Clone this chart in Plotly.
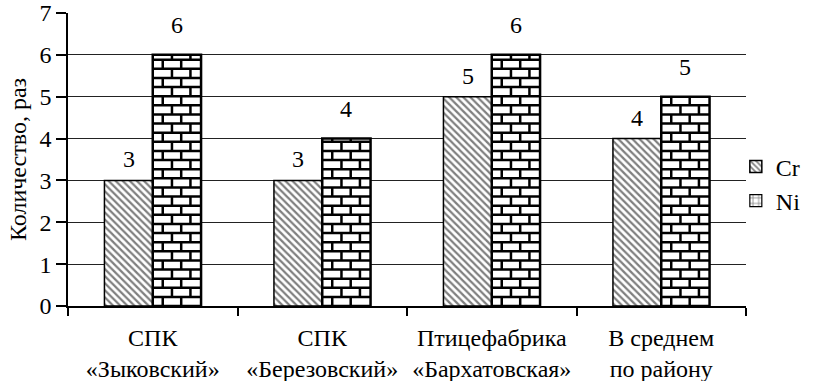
import plotly.graph_objects as go

# Data
categories = ["СПК<br>«Зыковский»", "СПК<br>«Березовский»",
              "Птицефабрика<br>«Бархатовская»", "В среднем<br>по району"]
cr_values = [3, 3, 5, 4]
ni_values = [6, 4, 6, 5]
series_names = ["Cr", "Ni"]
y_ticks = [0, 1, 2, 3, 4, 5, 6, 7]

FONT = "Times New Roman"
FS = 24
BAR_W = 0.285          # width of one bar in category units
ROW_H = 0.218          # brick row height (y units)
BRICK_W = 0.109        # brick length (x units)
PHASES = (0.54, 0.04)  # joint offset per alternating row, in brick lengths

xs = list(range(len(categories)))


def fnt():
    return dict(family=FONT, size=FS, color="black")


fig = go.Figure()

# Cr: diagonal hatch
fig.add_trace(go.Bar(
    x=xs, y=cr_values, name=series_names[0],
    width=BAR_W, offset=-BAR_W,
    marker=dict(color="white", line=dict(color="black", width=1.5),
                pattern=dict(shape="\\", size=5, solidity=0.45,
                             fgcolor="black", bgcolor="white")),
))

# Ni: white bars, brickwork drawn on top
fig.add_trace(go.Bar(
    x=xs, y=ni_values, name=series_names[1], showlegend=False,
    width=BAR_W, offset=0,
    marker=dict(color="white", line=dict(color="black", width=2.5)),
))

# Legend swatch for Ni
fig.add_trace(go.Bar(
    x=[None], y=[None], name=series_names[1],
    width=BAR_W, offset=0,
    marker=dict(color="white", line=dict(color="black", width=1.2),
                pattern=dict(shape="+", size=7, solidity=0.25,
                             fgcolor="black", bgcolor="white")),
))

# Brick mortar lines for each Ni bar
bx, by = [], []
for i, v in zip(xs, ni_values):
    left, right = i, i + BAR_W
    k = 0
    while k * ROW_H < v:
        y0 = k * ROW_H
        y1 = min((k + 1) * ROW_H, v)
        if k > 0:
            bx += [left, right, None]
            by += [y0, y0, None]
        ph = PHASES[k % 2] * BRICK_W
        xj = left + ph
        while xj < right - 0.01:
            if xj > left + 0.01:
                bx += [xj, xj, None]
                by += [y0, y1, None]
            xj += BRICK_W
        k += 1
fig.add_trace(go.Scatter(
    x=bx, y=by, mode="lines", showlegend=False, hoverinfo="skip",
    line=dict(color="black", width=2.5),
))

# Value labels
for i, v in zip(xs, cr_values):
    fig.add_annotation(x=i - BAR_W / 2, y=v, text=str(v), showarrow=False,
                       yshift=21, font=fnt())
for i, v in zip(xs, ni_values):
    fig.add_annotation(x=i + BAR_W / 2, y=v, text=str(v), showarrow=False,
                       yshift=30, font=fnt())

fig.update_layout(
    width=823, height=381,
    margin=dict(l=68, r=77, t=12.5, b=74.5),
    paper_bgcolor="white", plot_bgcolor="white",
    barmode="overlay",
    font=fnt(),
    showlegend=True,
    legend=dict(x=0.985, xanchor="left", y=0.417, yanchor="middle",
                font=fnt(), bgcolor="rgba(0,0,0,0)", itemwidth=30,
                tracegroupgap=0, traceorder="normal"),
)

fig.update_xaxes(
    range=[-0.5, 3.5], tickvals=xs, ticktext=categories, ticks="",
    showgrid=False, zeroline=False, showline=True, linecolor="black",
    linewidth=1.5, tickfont=fnt(), ticklabelstandoff=9, automargin=False,
    minor=dict(tickvals=[x - 0.5 for x in xs] + [xs[-1] + 0.5],
               ticks="outside", ticklen=8, tickcolor="black", tickwidth=1.5,
               showgrid=False),
)

fig.update_yaxes(
    range=[0, 7], tickvals=y_ticks, ticks="outside", ticklen=10,
    tickcolor="black", tickwidth=1.5, showgrid=True, gridcolor="#222",
    gridwidth=1.2, zeroline=False, showline=True, linecolor="black",
    linewidth=1.5, tickfont=fnt(), automargin=False,
    title=dict(text="Количество, раз", font=fnt(), standoff=6),
)

fig.write_html("out.html")
